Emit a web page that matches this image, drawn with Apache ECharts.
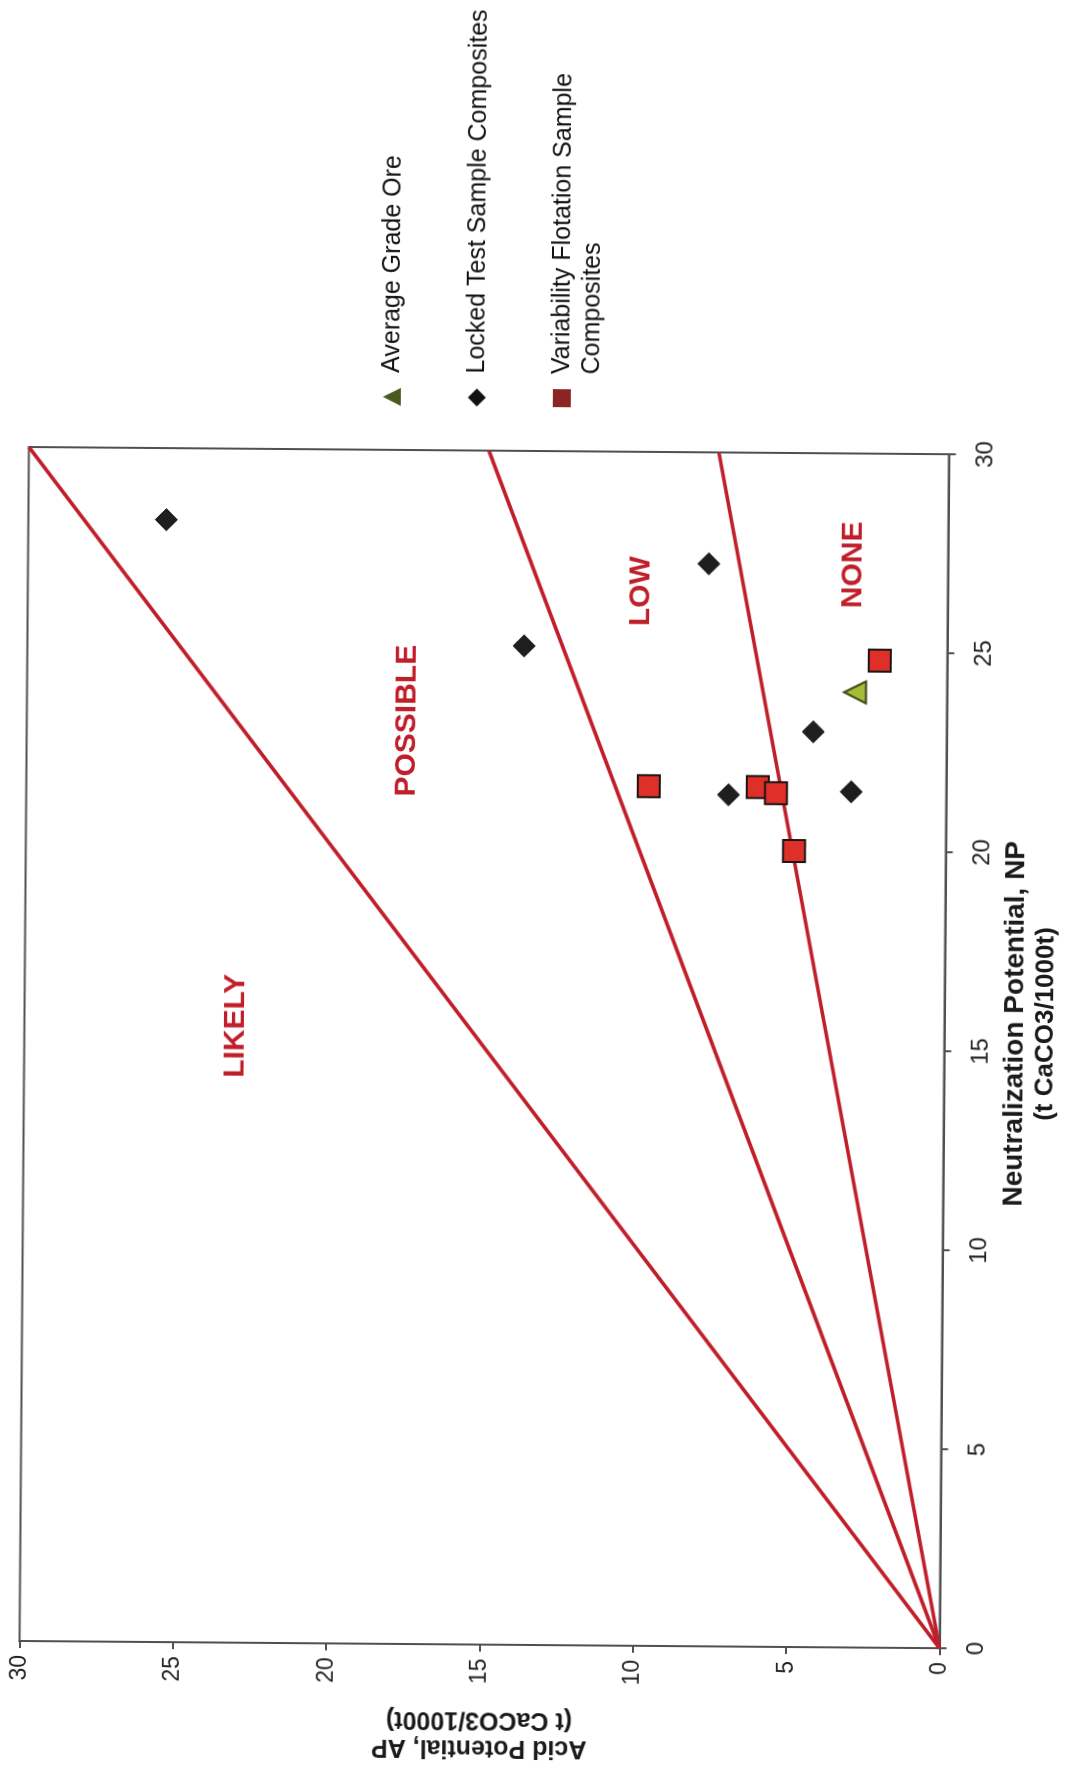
<!DOCTYPE html>
<html>
<head>
<meta charset="utf-8">
<script src="https://cdn.jsdelivr.net/npm/echarts@6/dist/echarts.min.js"></script>
<style>
html,body{margin:0;padding:0;width:1070px;height:1772px;overflow:hidden;background:#fff;}
#chart{position:absolute;left:-351px;top:351px;width:1772px;height:1070px;transform-origin:886px 535px;transform:rotate(-89.55deg);background:#fff;}
</style>
</head>
<body>
<div id="chart"></div>
<script>
// ---- data (NP = Neutralization Potential, AP = Acid Potential) ----
const axisMin = 0;
const axisMax = 30;
const axisStep = 5;

// boundary lines (NP end points, AP end points)
const boundaryNP = [0, 30];
const likelyPossibleAP = [0, 30];
const possibleLowAP = [0, 15];
const lowNoneAP = [0, 7.5];

// Average Grade Ore
const avgNP = [24.0];
const avgAP = [3.0];

// Locked Test Sample Composites
const lockedNP = [28.2, 25.1, 27.2, 21.4, 23.0, 21.5];
const lockedAP = [25.5, 13.8, 7.8, 7.1, 4.35, 3.1];

// Variability Flotation Sample Composites
const varNP = [21.6, 21.6, 21.45, 20.0, 24.8];
const varAP = [9.7, 6.15, 5.55, 4.95, 2.2];

// zone labels
const zoneNames = ['LIKELY', 'POSSIBLE', 'LOW', 'NONE'];
const zoneNP = [15.5, 23.2, 26.5, 27.2];
const zoneAP = [23.1, 17.6, 10.0, 3.1];

const seriesNames = ['Average Grade Ore', 'Locked Test Sample Composites', 'Variability Flotation Sample\nComposites'];

// ---- build ----
const pairs = (xs, ys) => xs.map((x, i) => [x, ys[i]]);
const FONT = "'Liberation Sans', Arial, sans-serif";
const RED = '#c01f2a';
const FRAME = '#505050';

const chart = echarts.init(document.getElementById('chart'), null, {renderer: 'canvas'});

const lineSeries = (name, ap) => ({
  name: name, type: 'line', data: pairs(boundaryNP, ap), symbol: 'none', silent: true, z: 2,
  lineStyle: {color: RED, width: 3.5, opacity: 1}
});

const legendText = {fontFamily: FONT, fontSize: 25, lineHeight: 30, color: '#111', padding: [0, 0, 0, 10]};
const legendCommon = {
  orient: 'vertical', left: 1365, itemWidth: 18, itemHeight: 18, padding: 0,
  selectedMode: false,
  // the two-line label keeps its first line level with the marker
  formatter: name => (name === seriesNames[2] ? ' \n' + name : name),
  textStyle: legendText
};

chart.setOption({
  animation: false,
  backgroundColor: '#fff',
  textStyle: {fontFamily: FONT},
  grid: {left: 127, right: 451, top: 25.5, bottom: 124.5, show: true, borderColor: FRAME, borderWidth: 2, backgroundColor: 'transparent'},
  legend: [
    Object.assign({}, legendCommon, {
      top: 388 - 15,
      data: [{name: seriesNames[0], icon: 'triangle'}],
      itemStyle: {color: '#4a5a1c', borderWidth: 0, opacity: 1}
    }),
    Object.assign({}, legendCommon, {
      top: 473 - 15,
      data: [{name: seriesNames[1], icon: 'diamond'}],
      itemStyle: {color: '#111', borderWidth: 0, opacity: 1}
    }),
    Object.assign({}, legendCommon, {
      top: 558 - 45,
      data: [{name: seriesNames[2], icon: 'rect'}],
      itemStyle: {color: '#8c2424', borderWidth: 0, opacity: 1}
    })
  ],
  xAxis: {
    type: 'value', min: axisMin, max: axisMax, interval: axisStep, position: 'bottom',
    name: '{a|Neutralization Potential, NP}\n{b|(t CaCO3/1000t)}',
    nameLocation: 'middle', nameGap: 56,
    nameTextStyle: {
      fontFamily: FONT, fontWeight: 'bold', color: '#1a1a1a', padding: [0, 0, 0, 56],
      rich: {
        a: {fontFamily: FONT, fontSize: 28, fontWeight: 'bold', lineHeight: 30, color: '#1a1a1a'},
        b: {fontFamily: FONT, fontSize: 26, fontWeight: 'bold', lineHeight: 30, color: '#1a1a1a'}
      }
    },
    axisLine: {show: true, lineStyle: {color: FRAME, width: 2}},
    axisTick: {show: true, inside: false, length: 7, lineStyle: {color: FRAME, width: 2}},
    axisLabel: {fontFamily: FONT, fontSize: 24, margin: 25, color: '#222'},
    splitLine: {show: false}
  },
  yAxis: {
    type: 'value', min: axisMin, max: axisMax, interval: axisStep, position: 'left',
    name: 'Acid Potential, AP\n(t CaCO3/1000t)',
    nameLocation: 'middle', nameRotate: 90, nameGap: 61,
    nameTextStyle: {fontFamily: FONT, fontSize: 25, fontWeight: 'bold', lineHeight: 28, color: '#1a1a1a'},
    axisLine: {show: true, lineStyle: {color: FRAME, width: 2}},
    axisTick: {show: true, inside: false, length: 7, lineStyle: {color: FRAME, width: 2}},
    axisLabel: {fontFamily: FONT, fontSize: 23, margin: 14, color: '#222'},
    splitLine: {show: false}
  },
  series: [
    lineSeries('LIKELY / POSSIBLE', likelyPossibleAP),
    lineSeries('POSSIBLE / LOW', possibleLowAP),
    lineSeries('LOW / NONE', lowNoneAP),
    {
      name: 'zones', type: 'scatter', silent: true, z: 3,
      symbolSize: 1, itemStyle: {color: 'rgba(0,0,0,0)', opacity: 1},
      data: zoneNames.map((n, i) => ({name: n, value: [zoneNP[i], zoneAP[i]]})),
      label: {show: true, position: 'inside', formatter: p => p.name, opacity: 1,
        fontFamily: FONT, fontSize: 30, fontWeight: 'bold', color: RED}
    },
    {
      name: seriesNames[1], type: 'scatter', symbol: 'diamond', symbolSize: 22, z: 4,
      itemStyle: {color: '#1e1e1e', borderColor: '#111', borderWidth: 1, opacity: 1},
      data: pairs(lockedNP, lockedAP)
    },
    {
      name: seriesNames[0], type: 'scatter', symbol: 'triangle', symbolSize: 22, z: 4,
      itemStyle: {color: '#a5bd36', borderColor: '#3a4512', borderWidth: 2, opacity: 1},
      data: pairs(avgNP, avgAP)
    },
    {
      name: seriesNames[2], type: 'scatter', symbol: 'rect', symbolSize: 22, z: 5,
      itemStyle: {color: '#df2f29', borderColor: '#1c1414', borderWidth: 2, opacity: 1},
      data: pairs(varNP, varAP)
    }
  ]
});
</script>
</body>
</html>
